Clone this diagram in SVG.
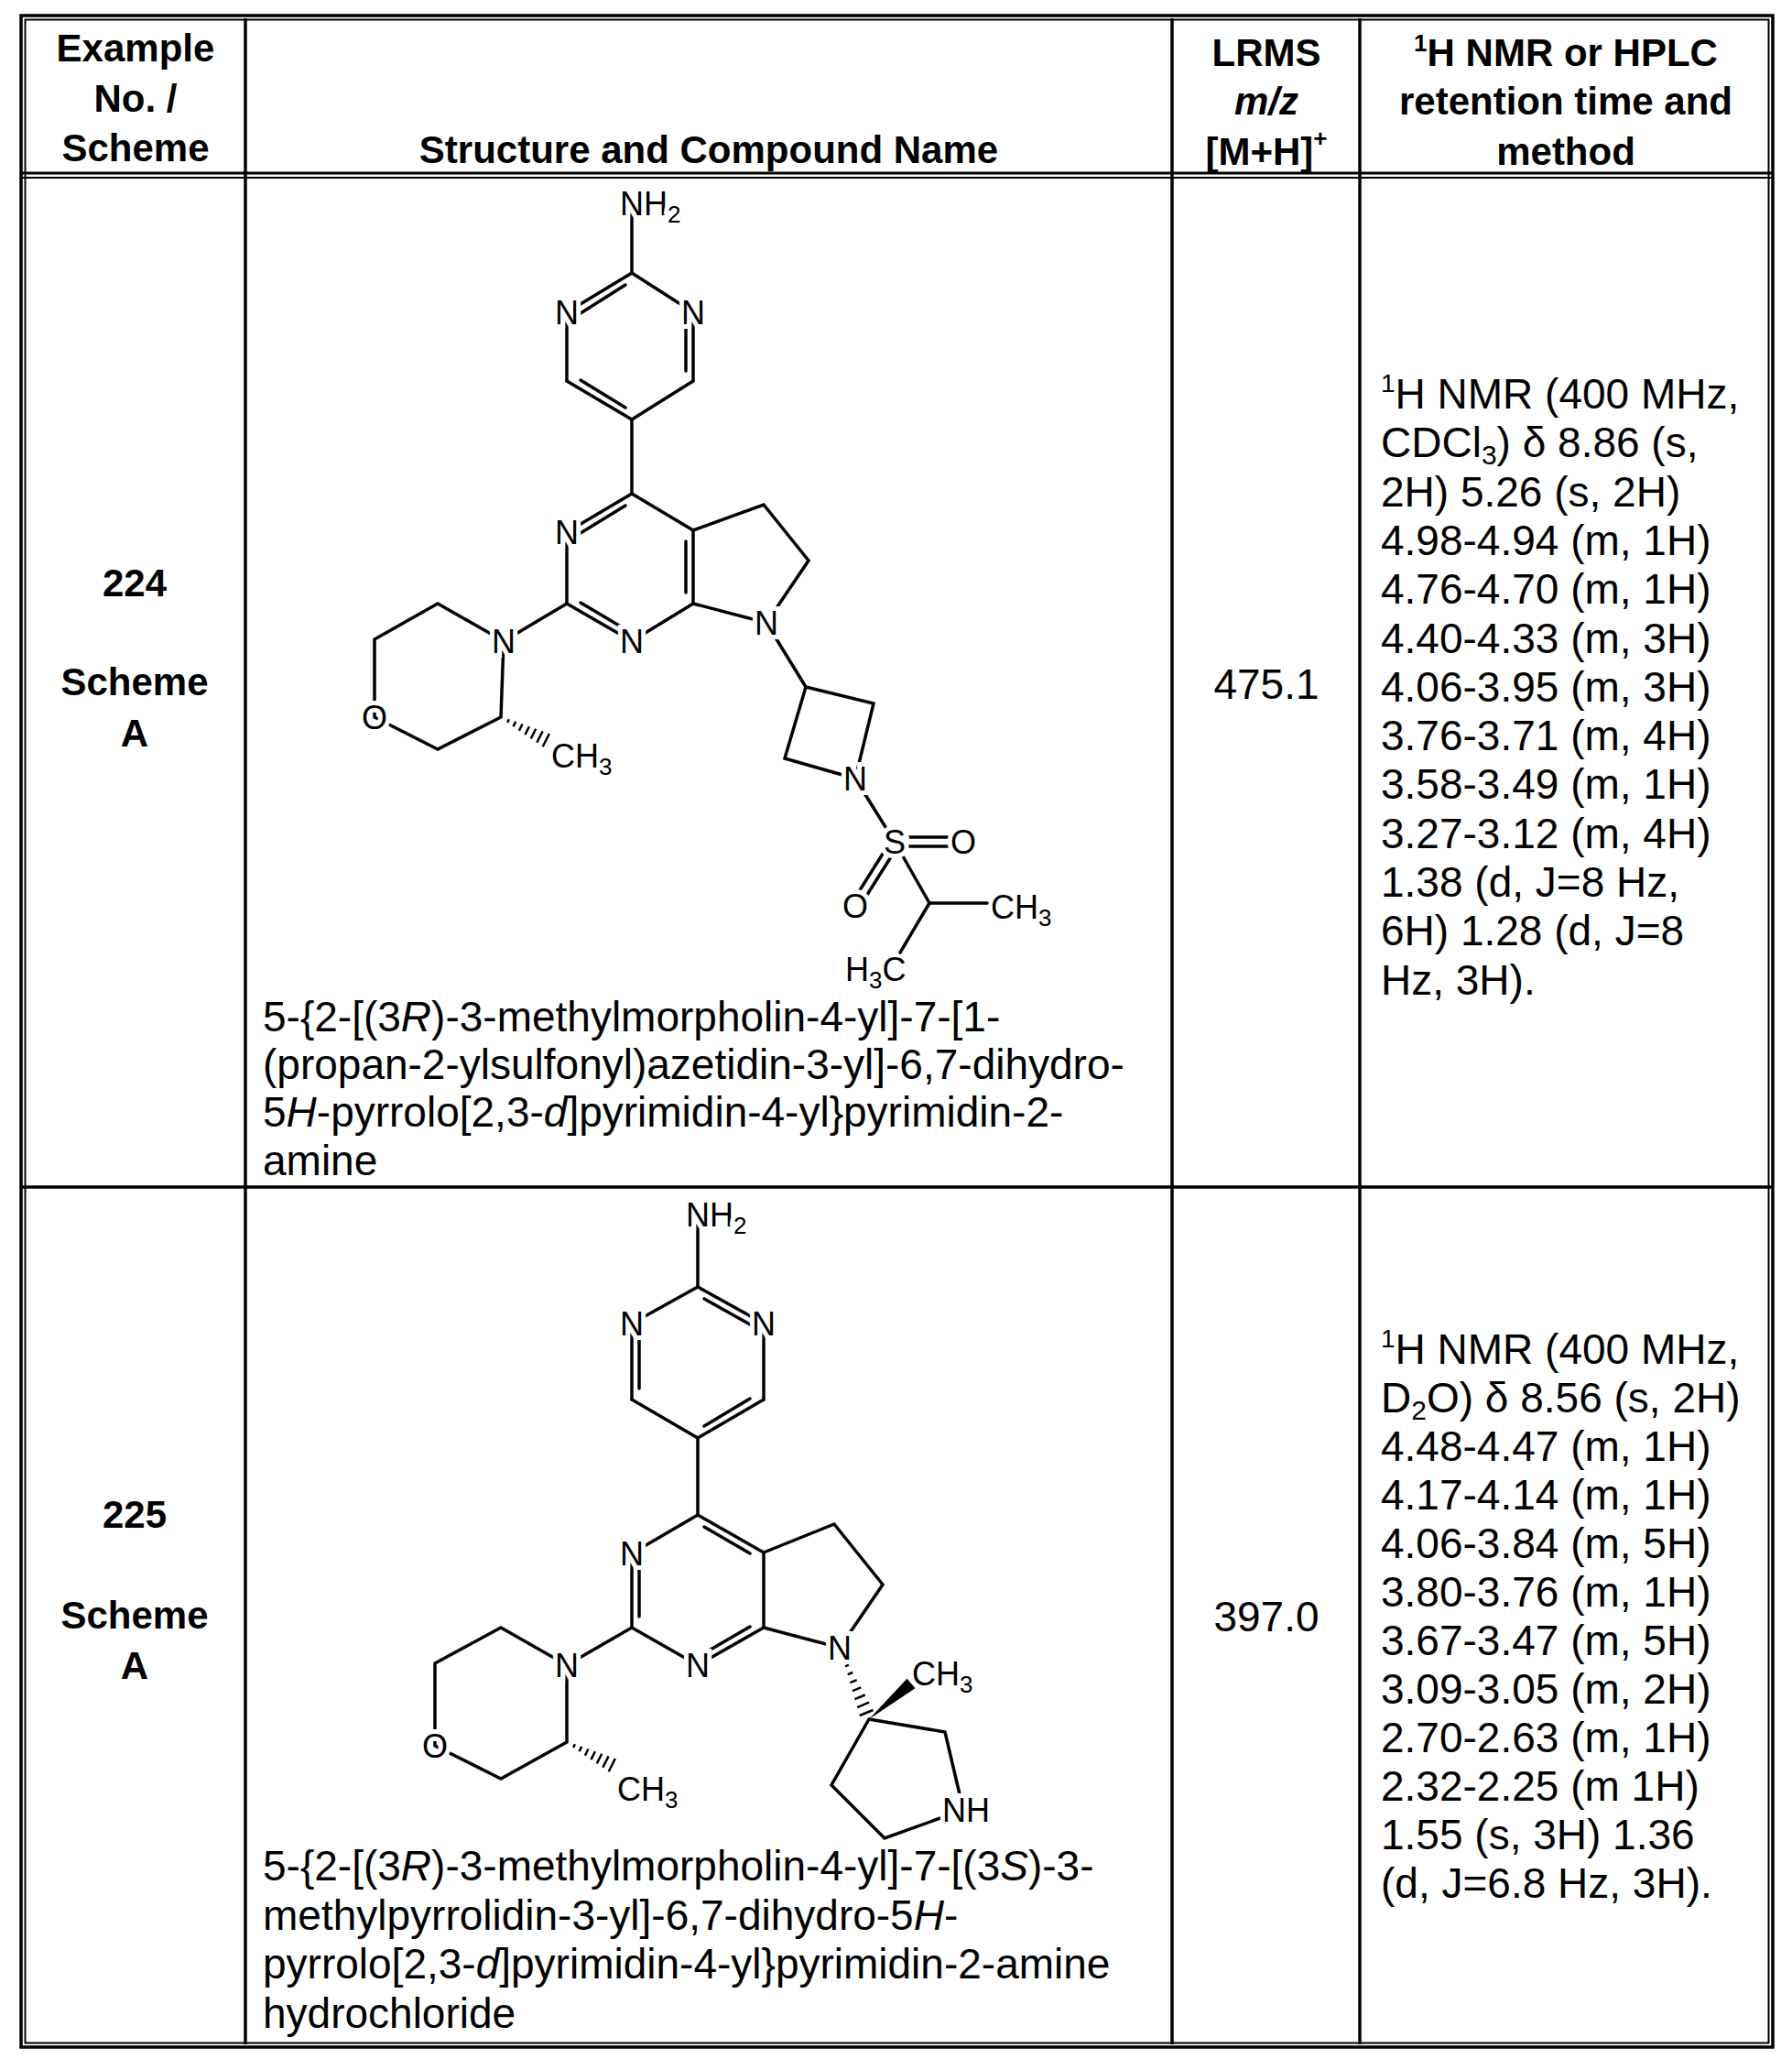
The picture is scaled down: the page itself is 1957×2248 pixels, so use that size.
<svg xmlns="http://www.w3.org/2000/svg" width="1957" height="2248" viewBox="0 0 1957 2248">
<style>
text{font-family:"Liberation Sans",Arial,sans-serif;fill:#000}
.h{font-weight:bold;font-size:42px;text-anchor:middle}
.t{font-size:46px}
.c{text-anchor:middle}
.a{font-size:36px}
.m{text-anchor:middle;stroke:#fff;stroke-width:10px;paint-order:stroke}
.b line,.b polyline{stroke:#000;stroke-width:3.5;fill:none;stroke-linecap:round}
.g{stroke:#000;fill:none}
</style>
<defs>
<g id="hash" stroke="#000" stroke-width="2.5">
<line x1="7.1" y1="5.9" x2="8.9" y2="2.3"/><line x1="13.5" y1="10.3" x2="16.2" y2="4.9"/><line x1="19.9" y1="14.7" x2="23.5" y2="7.5"/><line x1="26.4" y1="19.1" x2="30.9" y2="10.2"/><line x1="32.8" y1="23.4" x2="38.2" y2="12.8"/><line x1="39.3" y1="27.8" x2="45.6" y2="15.4"/><line x1="45.7" y1="32.2" x2="52.9" y2="18.0"/>
</g>
</defs>
<g id="table" class="g">
<rect x="23" y="17" width="1913" height="2218" stroke-width="3.5"/>
<rect x="27.5" y="21.5" width="1904" height="2209" stroke-width="2"/>
<line x1="23" y1="189" x2="1936" y2="189" stroke-width="3"/>
<line x1="23" y1="194" x2="1936" y2="194" stroke-width="2"/>
<line x1="23" y1="1296" x2="1936" y2="1296" stroke-width="3.5"/>
<line x1="268" y1="20" x2="268" y2="2232" stroke-width="3.5"/>
<line x1="1280" y1="20" x2="1280" y2="2232" stroke-width="3.5"/>
<line x1="1485" y1="20" x2="1485" y2="2232" stroke-width="3.5"/>
</g>
<g id="header">
<text class="h" x="148" y="67">Example</text>
<text class="h" x="148" y="122">No. /</text>
<text class="h" x="148" y="176">Scheme</text>
<text class="h" x="774" y="178">Structure and Compound Name</text>
<text class="h" x="1383" y="72">LRMS</text>
<text class="h" x="1383" y="125" font-style="italic">m/z</text>
<text class="h" x="1383" y="180">[M+H]<tspan font-size="26" dy="-20">+</tspan></text>
<text class="h" x="1710" y="72"><tspan font-size="26" dy="-16">1</tspan><tspan dy="16">H NMR or HPLC</tspan></text>
<text class="h" x="1710" y="125">retention time and</text>
<text class="h" x="1710" y="180">method</text>
</g>
<g id="row224">
<text class="h" x="147" y="651">224</text>
<text class="h" x="147" y="759">Scheme</text>
<text class="h" x="147" y="815">A</text>
<text class="t c" x="1383" y="763">475.1</text>
<text class="t" x="287" y="1126">5-{2-[(3<tspan font-style="italic">R</tspan>)-3-methylmorpholin-4-yl]-7-[1-</text>
<text class="t" x="287" y="1178">(propan-2-ylsulfonyl)azetidin-3-yl]-6,7-dihydro-</text>
<text class="t" x="287" y="1230">5<tspan font-style="italic">H</tspan>-pyrrolo[2,3-<tspan font-style="italic">d</tspan>]pyrimidin-4-yl}pyrimidin-2-</text>
<text class="t" x="287" y="1283">amine</text>
<g class="t">
<text x="1508" y="446"><tspan font-size="28" dy="-18">1</tspan><tspan dy="18">H NMR (400 MHz,</tspan></text>
<text x="1508" y="499">CDCl<tspan font-size="30" dy="8">3</tspan><tspan dy="-8">) δ 8.86 (s,</tspan></text>
<text x="1508" y="553">2H) 5.26 (s, 2H)</text>
<text x="1508" y="606">4.98-4.94 (m, 1H)</text>
<text x="1508" y="659">4.76-4.70 (m, 1H)</text>
<text x="1508" y="713">4.40-4.33 (m, 3H)</text>
<text x="1508" y="766">4.06-3.95 (m, 3H)</text>
<text x="1508" y="819">3.76-3.71 (m, 4H)</text>
<text x="1508" y="872">3.58-3.49 (m, 1H)</text>
<text x="1508" y="926">3.27-3.12 (m, 4H)</text>
<text x="1508" y="979">1.38 (d, J=8 Hz,</text>
<text x="1508" y="1032">6H) 1.28 (d, J=8</text>
<text x="1508" y="1086">Hz, 3H).</text>
</g>
</g>
<g id="row225">
<text class="h" x="147" y="1668">225</text>
<text class="h" x="147" y="1778">Scheme</text>
<text class="h" x="147" y="1833">A</text>
<text class="t c" x="1383" y="1781">397.0</text>
<text class="t" x="287" y="2053">5-{2-[(3<tspan font-style="italic">R</tspan>)-3-methylmorpholin-4-yl]-7-[(3<tspan font-style="italic">S</tspan>)-3-</text>
<text class="t" x="287" y="2107">methylpyrrolidin-3-yl]-6,7-dihydro-5<tspan font-style="italic">H</tspan>-</text>
<text class="t" x="287" y="2160">pyrrolo[2,3-<tspan font-style="italic">d</tspan>]pyrimidin-4-yl}pyrimidin-2-amine</text>
<text class="t" x="287" y="2214">hydrochloride</text>
<g class="t">
<text x="1508" y="1489"><tspan font-size="28" dy="-18">1</tspan><tspan dy="18">H NMR (400 MHz,</tspan></text>
<text x="1508" y="1542">D<tspan font-size="30" dy="8">2</tspan><tspan dy="-8">O) δ 8.56 (s, 2H)</tspan></text>
<text x="1508" y="1595">4.48-4.47 (m, 1H)</text>
<text x="1508" y="1648">4.17-4.14 (m, 1H)</text>
<text x="1508" y="1701">4.06-3.84 (m, 5H)</text>
<text x="1508" y="1754">3.80-3.76 (m, 1H)</text>
<text x="1508" y="1807">3.67-3.47 (m, 5H)</text>
<text x="1508" y="1860">3.09-3.05 (m, 2H)</text>
<text x="1508" y="1913">2.70-2.63 (m, 1H)</text>
<text x="1508" y="1966">2.32-2.25 (m 1H)</text>
<text x="1508" y="2019">1.55 (s, 3H) 1.36</text>
<text x="1508" y="2072">(d, J=6.8 Hz, 3H).</text>
</g>
</g>
<g id="structure224">
<g class="b">
<line x1="690" y1="222" x2="690" y2="298"/>
<line x1="690" y1="298" x2="619" y2="341"/><line x1="683" y1="311" x2="634" y2="342"/>
<line x1="690" y1="298" x2="757" y2="341"/>
<line x1="619" y1="341" x2="619" y2="416"/>
<line x1="757" y1="341" x2="757" y2="416"/><line x1="749" y1="352" x2="749" y2="405"/>
<line x1="619" y1="416" x2="690" y2="458"/><line x1="634" y1="415" x2="683" y2="445"/>
<line x1="757" y1="416" x2="690" y2="458"/>
<line x1="690" y1="458" x2="690" y2="539"/>
<line x1="690" y1="539" x2="619" y2="581"/><line x1="683" y1="552" x2="634" y2="582"/>
<line x1="619" y1="581" x2="619" y2="659"/>
<line x1="619" y1="659" x2="690" y2="700"/><line x1="634" y1="658" x2="683" y2="687"/>
<line x1="690" y1="700" x2="757" y2="659"/>
<line x1="757" y1="659" x2="757" y2="579"/><line x1="749" y1="591" x2="749" y2="647"/>
<line x1="757" y1="579" x2="690" y2="539"/>
<polyline points="757,579 834,551 883,612 837,680 757,659"/>
<line x1="837" y1="680" x2="880" y2="750"/>
<polyline points="880,750 954,768 934,850 857,828 880,750"/>
<line x1="934" y1="850" x2="977" y2="919"/>
<line x1="992" y1="914" x2="1040" y2="914"/><line x1="992" y1="924" x2="1040" y2="924"/>
<line x1="974" y1="934" x2="945" y2="980"/><line x1="966" y1="929" x2="937" y2="975"/>
<line x1="977" y1="919" x2="1015" y2="986"/>
<line x1="1015" y1="986" x2="1078" y2="986"/>
<line x1="1015" y1="986" x2="983" y2="1040"/>
<line x1="619" y1="659" x2="550" y2="700"/>
<polyline points="550,700 478,659 409,698 409,783 478,818 547,783 550,700"/>
</g>
<use href="#hash" x="547" y="783"/>
<g class="a">
<text x="677" y="235" class="m" style="text-anchor:start">NH<tspan font-size="26" dy="8">2</tspan></text>
<text class="m" x="619" y="354">N</text>
<text class="m" x="757" y="354">N</text>
<text class="m" x="619" y="594">N</text>
<text class="m" x="690" y="713">N</text>
<text class="m" x="837" y="693">N</text>
<text class="m" x="934" y="863">N</text>
<text class="m" x="977" y="932">S</text>
<text class="m" x="1052" y="932">O</text>
<text class="m" x="934" y="1002">O</text>
<text x="1082" y="1003">CH<tspan font-size="26" dy="8">3</tspan></text>
<text x="923" y="1071">H<tspan font-size="26" dy="8">3</tspan><tspan dy="-8">C</tspan></text>
<text class="m" x="550" y="713">N</text>
<text class="m" x="409" y="796">O</text>
<text x="602" y="838">CH<tspan font-size="26" dy="8">3</tspan></text>
</g>
</g>
<g id="structure225">
<g class="b">
<line x1="762" y1="1326" x2="762" y2="1405"/>
<line x1="762" y1="1405" x2="690" y2="1445"/>
<line x1="762" y1="1405" x2="834" y2="1445"/><line x1="769" y1="1418" x2="819" y2="1446"/>
<line x1="690" y1="1445" x2="690" y2="1528"/><line x1="698" y1="1457" x2="698" y2="1516"/>
<line x1="834" y1="1445" x2="834" y2="1528"/>
<line x1="690" y1="1528" x2="762" y2="1570"/>
<line x1="834" y1="1528" x2="762" y2="1570"/><line x1="769" y1="1557" x2="819" y2="1527"/>
<line x1="762" y1="1570" x2="762" y2="1654"/>
<line x1="762" y1="1654" x2="690" y2="1696"/>
<line x1="690" y1="1696" x2="690" y2="1777"/><line x1="698" y1="1708" x2="698" y2="1765"/>
<line x1="690" y1="1777" x2="762" y2="1818"/>
<line x1="762" y1="1818" x2="834" y2="1777"/><line x1="769" y1="1805" x2="819" y2="1776"/>
<line x1="834" y1="1777" x2="834" y2="1695"/>
<line x1="834" y1="1695" x2="762" y2="1654"/><line x1="769" y1="1667" x2="819" y2="1696"/>
<polyline points="834,1695 911,1664 964,1730 917,1799 834,1777"/>
<polyline points="949,1877 1032,1891 1052,1976 966,2007 908,1949 949,1877"/>
<line x1="690" y1="1777" x2="619" y2="1818"/>
<polyline points="619,1818 547,1777 475,1816 475,1906 547,1942 619,1902 619,1818"/>
</g>
<g stroke="#000" stroke-width="2.5">
<line x1="923.1" y1="1819.3" x2="926.9" y2="1817.7"/><line x1="925.7" y1="1828.2" x2="931.3" y2="1826"/><line x1="928.3" y1="1837.2" x2="935.7" y2="1834.2"/><line x1="931" y1="1846.1" x2="940.3" y2="1842.3"/><line x1="933.5" y1="1855.1" x2="944.7" y2="1850.5"/><line x1="936.1" y1="1864.1" x2="949.1" y2="1858.7"/><line x1="938.7" y1="1873" x2="953.5" y2="1867"/>
</g>
<polygon points="949,1877 999.5,1843.3 990.5,1832.7" fill="#000"/>
<use href="#hash" x="619" y="1902"/>
<g class="a">
<text x="749" y="1339" class="m" style="text-anchor:start">NH<tspan font-size="26" dy="8">2</tspan></text>
<text class="m" x="690" y="1458">N</text>
<text class="m" x="834" y="1458">N</text>
<text class="m" x="690" y="1709">N</text>
<text class="m" x="762" y="1831">N</text>
<text class="m" x="917" y="1812">N</text>
<text class="m" x="1047" y="1989" style="text-anchor:start" dx="-18">NH</text>
<text x="996" y="1840">CH<tspan font-size="26" dy="8">3</tspan></text>
<text class="m" x="619" y="1831">N</text>
<text class="m" x="475" y="1919">O</text>
<text x="674" y="1966">CH<tspan font-size="26" dy="8">3</tspan></text>
</g>
</g>
</svg>
